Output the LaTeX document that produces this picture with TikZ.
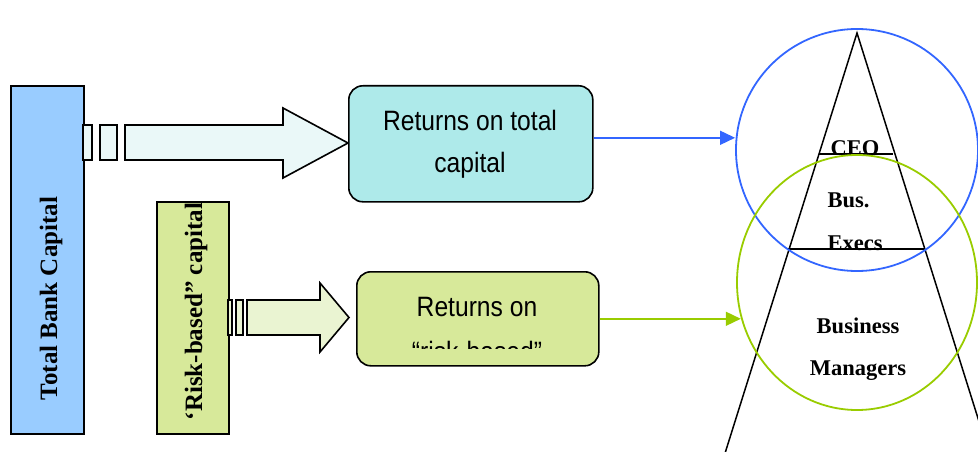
\documentclass[tikz,border=0pt]{standalone}
\usepackage{fontspec}
\setmainfont{Liberation Serif}
\setsansfont{Liberation Sans}
\usetikzlibrary{arrows.meta,shapes.geometric}
\definecolor{cTot}{HTML}{99CCFF}
\definecolor{cTotArr}{HTML}{EAF8F8}
\definecolor{cTotBox}{HTML}{AEEAEA}
\definecolor{cRisk}{HTML}{D7E99A}
\definecolor{cRiskArr}{HTML}{EAF4D2}
\definecolor{cBlue}{HTML}{3366FF}
\definecolor{cGreen}{HTML}{99CC00}

\begin{document}
\begin{tikzpicture}[x=1pt, y=-1pt, line join=miter,
  bar/.style={draw, fill=#1, line width=1.6pt, anchor=north west, inner sep=0pt},
  rbox/.style={draw, fill=#1, line width=1.6pt, rounded corners=14pt, anchor=north west, inner sep=0pt},
  blockarr/.style={draw, fill=#1, line width=1.6pt},
  barlab/.style={rotate=90, anchor=base, font=\bfseries\fontsize{25}{25}\selectfont},
  boxlab/.style={anchor=base, xscale=0.88, font=\sffamily\fontsize{28}{28}\selectfont},
  tierlab/.style={anchor=base, font=\bfseries\fontsize{22.5}{22.5}\selectfont},
  ring/.style={draw=#1, line width=1.8pt, inner sep=0pt},
  link/.style={draw=#1, line width=1.5pt, -{Triangle[length=15pt, width=14pt]}}]
  \useasboundingbox (0,0) rectangle (978,452);

  % capital bars
  \node[bar=cTot, minimum width=73pt, minimum height=348pt] (tbc) at (10,85) {};
  \node[bar=cRisk, minimum width=72pt, minimum height=232pt] (rbc) at (156,201) {};
  \node[barlab] (tbclab) at (57,298.5) {Total Bank Capital};
  \node[barlab] (rbclab) at (202,311.5) {‘Risk-based” capital};

  % striped block arrows
  \foreach \a/\b in {83/92, 100/117} \draw[blockarr=cTotArr] (\a,125) rectangle (\b,160);
  \draw[blockarr=cTotArr] (125,125) -- (283,125) -- (283,108) -- (348,143) -- (283,178) -- (283,160) -- (125,160) -- cycle;
  \foreach \a/\b in {228/232, 236/243} \draw[blockarr=cRiskArr] (\a,300) rectangle (\b,335);
  \draw[blockarr=cRiskArr] (247,300) -- (320,300) -- (320,283) -- (349,317.5) -- (320,352) -- (320,335) -- (247,335) -- cycle;

  % returns boxes
  \node[rbox=cTotBox, minimum width=244pt, minimum height=116pt] (rtc) at (348,85) {};
  \node[boxlab] (rtcl1) at (470,130.5) {Returns on total};
  \node[boxlab] (rtcl2) at (470,172.5) {capital};
  \node[rbox=cRisk, minimum width=242pt, minimum height=94pt] (rrb) at (356,271) {};
  \node[boxlab] (rrbl1) at (477,316) {Returns on};
  \begin{scope}
    \clip (356,271) rectangle (598,348);
    \node[boxlab] (rrbl2) at (477,361) {“risk-based”};
  \end{scope}

  % pyramid of management tiers
  \begin{scope}
    \clip (0,0) rectangle (978,452);
    \draw[line width=1.5pt] (722.9,460) -- (857,33) -- (991.1,460);
  \end{scope}
  \draw[line width=1.5pt] (819,154) -- (893,154);
  \draw[line width=1.5pt] (787,249) -- (924,249);
  \begin{scope}
    \clip (800,120) rectangle (910,152.5);
    \node[tierlab] (ceo) at (855,155) {CEO};
  \end{scope}
  \node[tierlab, anchor=base west] (bus) at (824,207) {Bus.};
  \node[tierlab, anchor=base west] (exec) at (824,250) {Execs};
  \node[tierlab] (bm1) at (858,333) {Business};
  \node[tierlab] (bm2) at (858,375) {Managers};

  % overlapping circles
  \node[ring=cBlue, circle, minimum size=242pt] (cb) at (857,150) {};
  \node[ring=cGreen, ellipse, minimum width=240pt, minimum height=255pt] (gc) at (857,282.5) {};

  \draw[link=cBlue] ([yshift=6pt]rtc.east) -- ([yshift=6pt]rtc.east -| cb.west);
  \draw[link=cGreen] (rrb.east) -- (rrb.east -| gc.197);
\end{tikzpicture}
\end{document}
